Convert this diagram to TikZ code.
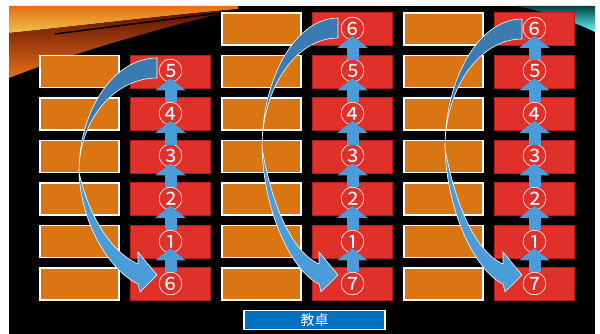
\documentclass[tikz,border=0pt]{standalone}
\usepackage{fontspec}
\usepackage{tikz}
\usetikzlibrary{positioning,arrows.meta,calc}
\usepackage{xcolor}
\newfontfamily\jpfont{Noto Sans CJK JP}
\definecolor{seatorange}{RGB}{217,117,18}
\definecolor{seatred}{RGB}{224,48,42}
\definecolor{seatredline}{RGB}{176,30,30}
\definecolor{arrlight}{RGB}{75,157,218}
\definecolor{arrdark}{RGB}{58,124,178}
\definecolor{deskblue}{RGB}{0,112,192}
\definecolor{streakgold}{RGB}{238,196,70}
\definecolor{streakorange}{RGB}{230,110,20}
\definecolor{streakred}{RGB}{225,35,10}

% bent arrow: #1 right x, #2 top y, #3 leftmost x, #4 turning y
\newcommand{\bendarrow}[4]{%
\filldraw[fill=arrdark,draw=white,line width=0.6pt] (#1,#2) .. controls ({#1-0.55*(#1-#3)},#2) and (#3,{#4-0.55*(#4-#2)}) .. (#3,#4)
  .. controls (#3,{#4-0.55*(#4-#2-20)}) and ({#1-0.55*(#1-#3)},#2+20) .. (#1,#2+20) -- cycle;
\filldraw[fill=arrlight,draw=white,line width=0.6pt] (#3,#4) .. controls (#3+2,{#4+0.5*(282-#4)}) and (#1-45,272) .. (#1-19,284)
  -- (#1-17,292) -- (#1,275) -- (#1-19,252) -- (#1-19,264)
  .. controls (#1-50,250) and (#3+8,{#4+0.4*(264-#4)}) .. (#3,#4) -- cycle;}

\begin{document}
\begin{tikzpicture}[x=1pt,y=-1pt,
  seat/.style={draw=white,line width=1.8pt,fill=seatorange,minimum width=79.5pt,minimum height=32pt,inner sep=0pt},
  redseat/.style={draw=seatredline,line width=0.8pt,fill=seatred,minimum width=80.5pt,minimum height=33pt,inner sep=0pt,
    text=white,font=\jpfont\fontsize{25}{25}\selectfont},
  desk/.style={draw=white,line width=1.5pt,fill=deskblue,minimum width=141pt,minimum height=19pt,inner sep=0pt,
    text=white,font=\jpfont\fontsize{14}{14}\selectfont},
  uparr/.style={draw=arrlight,line width=12pt,-{Triangle[width=30pt,length=12pt]}}]
\useasboundingbox (0,0) rectangle (600,334);
\fill[white] (0,0) rectangle (600,334);
\fill[black] (9,6) rectangle (595,334);
% background streaks (y runs downwards, so the shading colours are swapped)
\shade[bottom color=streakgold,top color=streakorange] (9,6) -- (238,6) -- (238,9) .. controls (150,17) and (60,28) .. (9,33) -- cycle;
\shade[bottom color=streakorange,middle color=streakred,top color=streakred!40!black] (9,33) .. controls (60,28) and (150,17) .. (238,9)
  .. controls (170,26) and (80,50) .. (9,78) -- cycle;
\draw[black,line width=1.5pt] (55,34) .. controls (110,27) and (170,19) .. (228,12);
\shade[bottom color=cyan!60!white,top color=teal!50!black] (515,6) -- (595,6) -- (595,32) .. controls (570,20) and (540,10) .. (515,6) -- cycle;
% left block
\node[seat] (o1-2) at (79.5,71.5) {};
\node[seat] (o1-3) at (79.5,114) {};
\node[seat] (o1-4) at (79.5,156.5) {};
\node[seat] (o1-5) at (79.5,199) {};
\node[seat] (o1-6) at (79.5,241.5) {};
\node[seat] (o1-7) at (79.5,284) {};
\node[redseat] (r1-2) at (170.5,71.5) {⑤};
\node[redseat] (r1-3) at (170.5,114) {④};
\node[redseat] (r1-4) at (170.5,156.5) {③};
\node[redseat] (r1-5) at (170.5,199) {②};
\node[redseat] (r1-6) at (170.5,241.5) {①};
\node[redseat] (r1-7) at (170.5,284) {⑥};
% middle block
\node[seat] (o2-1) at (261.5,29) {};
\node[seat] (o2-2) at (261.5,71.5) {};
\node[seat] (o2-3) at (261.5,114) {};
\node[seat] (o2-4) at (261.5,156.5) {};
\node[seat] (o2-5) at (261.5,199) {};
\node[seat] (o2-6) at (261.5,241.5) {};
\node[seat] (o2-7) at (261.5,284) {};
\node[redseat] (r2-1) at (352.5,29) {⑥};
\node[redseat] (r2-2) at (352.5,71.5) {⑤};
\node[redseat] (r2-3) at (352.5,114) {④};
\node[redseat] (r2-4) at (352.5,156.5) {③};
\node[redseat] (r2-5) at (352.5,199) {②};
\node[redseat] (r2-6) at (352.5,241.5) {①};
\node[redseat] (r2-7) at (352.5,284) {⑦};
% right block
\node[seat] (o3-1) at (443.5,29) {};
\node[seat] (o3-2) at (443.5,71.5) {};
\node[seat] (o3-3) at (443.5,114) {};
\node[seat] (o3-4) at (443.5,156.5) {};
\node[seat] (o3-5) at (443.5,199) {};
\node[seat] (o3-6) at (443.5,241.5) {};
\node[seat] (o3-7) at (443.5,284) {};
\node[redseat] (r3-1) at (534.5,29) {⑥};
\node[redseat] (r3-2) at (534.5,71.5) {⑤};
\node[redseat] (r3-3) at (534.5,114) {④};
\node[redseat] (r3-4) at (534.5,156.5) {③};
\node[redseat] (r3-5) at (534.5,199) {②};
\node[redseat] (r3-6) at (534.5,241.5) {①};
\node[redseat] (r3-7) at (534.5,284) {⑦};
\node[desk] (desk) at (314.5,320) {教卓};
% upward steps
\draw[uparr] ([yshift=-5pt]r1-3.north) -- ([yshift=10pt]r1-2.south);
\draw[uparr] ([yshift=-5pt]r1-4.north) -- ([yshift=10pt]r1-3.south);
\draw[uparr] ([yshift=-5pt]r1-5.north) -- ([yshift=10pt]r1-4.south);
\draw[uparr] ([yshift=-5pt]r1-6.north) -- ([yshift=10pt]r1-5.south);
\draw[uparr] ([yshift=-5pt]r1-7.north) -- ([yshift=10pt]r1-6.south);
\draw[uparr] ([yshift=-5pt]r2-2.north) -- ([yshift=10pt]r2-1.south);
\draw[uparr] ([yshift=-5pt]r2-3.north) -- ([yshift=10pt]r2-2.south);
\draw[uparr] ([yshift=-5pt]r2-4.north) -- ([yshift=10pt]r2-3.south);
\draw[uparr] ([yshift=-5pt]r2-5.north) -- ([yshift=10pt]r2-4.south);
\draw[uparr] ([yshift=-5pt]r2-6.north) -- ([yshift=10pt]r2-5.south);
\draw[uparr] ([yshift=-5pt]r2-7.north) -- ([yshift=10pt]r2-6.south);
\draw[uparr] ([yshift=-5pt]r3-2.north) -- ([yshift=10pt]r3-1.south);
\draw[uparr] ([yshift=-5pt]r3-3.north) -- ([yshift=10pt]r3-2.south);
\draw[uparr] ([yshift=-5pt]r3-4.north) -- ([yshift=10pt]r3-3.south);
\draw[uparr] ([yshift=-5pt]r3-5.north) -- ([yshift=10pt]r3-4.south);
\draw[uparr] ([yshift=-5pt]r3-6.north) -- ([yshift=10pt]r3-5.south);
\draw[uparr] ([yshift=-5pt]r3-7.north) -- ([yshift=10pt]r3-6.south);
% turning arrows
\bendarrow{157}{58}{79}{172}
\bendarrow{338}{18}{262}{148}
\bendarrow{522}{19}{445}{148}
\end{tikzpicture}
\end{document}
